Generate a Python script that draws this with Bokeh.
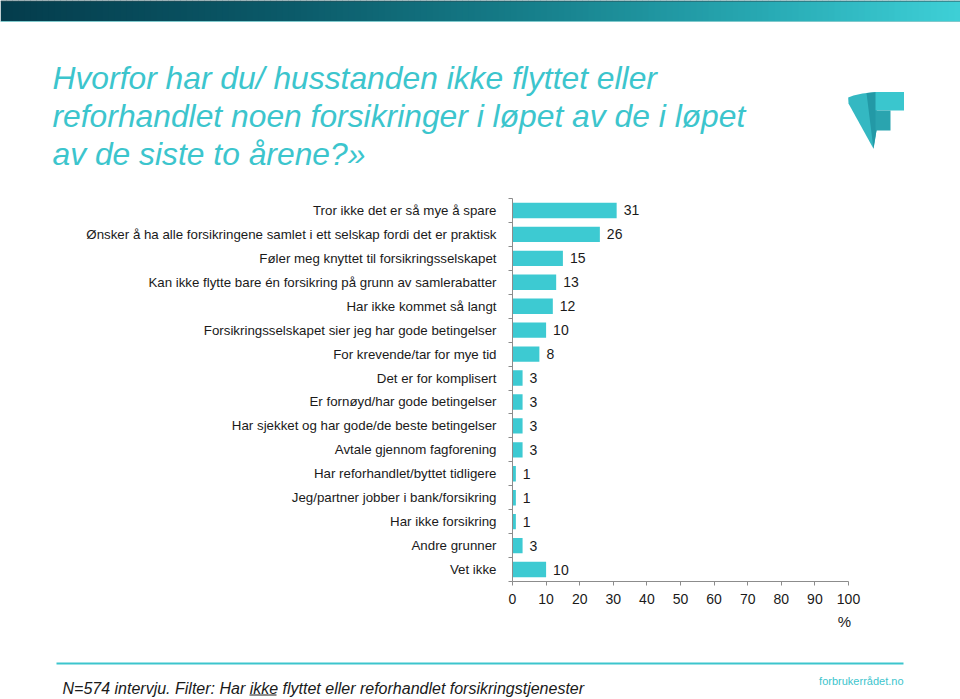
from bokeh.plotting import figure
from bokeh.models import Range1d, FixedTicker
from bokeh.layouts import column
from bokeh.embed import file_html
from bokeh.resources import INLINE
from bokeh.core.properties import value

# ---------------- data ----------------
categories = [
    "Tror ikke det er så mye å spare",
    "Ønsker å ha alle forsikringene samlet i ett selskap fordi det er praktisk",
    "Føler meg knyttet til forsikringsselskapet",
    "Kan ikke flytte bare én forsikring på grunn av samlerabatter",
    "Har ikke kommet så langt",
    "Forsikringsselskapet sier jeg har gode betingelser",
    "For krevende/tar for mye tid",
    "Det er for komplisert",
    "Er fornøyd/har gode betingelser",
    "Har sjekket og har gode/de beste betingelser",
    "Avtale gjennom fagforening",
    "Har reforhandlet/byttet tidligere",
    "Jeg/partner jobber i bank/forsikring",
    "Har ikke forsikring",
    "Andre grunner",
    "Vet ikke",
]
values = [31, 26, 15, 13, 12, 10, 8, 3, 3, 3, 3, 1, 1, 1, 3, 10]
x_ticks = [0, 10, 20, 30, 40, 50, 60, 70, 80, 90, 100]
title_lines = [
    "Hvorfor har du/ husstanden ikke flyttet eller",
    "reforhandlet noen forsikringer i løpet av de i løpet",
    "av de siste to årene?»",
]
unit_label = "%"
footnote = "N=574 intervju. Filter: Har ikke flyttet eller reforhandlet forsikringstjenester"
source_text = "forbrukerrådet.no"

# ---------------- style ----------------
W = 960
FONT = "Liberation Sans"
TEAL = "#3cc5cd"
BAR = "#3dcad2"
AXIS = "#8c8c8c"
TXT = "#1a1a1a"


def no_align(f):
    try:
        f.frame_align = False
    except Exception:
        pass


def blank(height):
    f = figure(width=W, height=height, x_range=Range1d(0, W), y_range=Range1d(height, 0),
               output_backend="svg", toolbar_location=None, min_border=0,
               x_axis_type=None, y_axis_type=None)
    f.grid.visible = False
    f.outline_line_color = None
    no_align(f)
    return f


# ---------------- header ----------------
HH = 190
hdr = blank(HH)
stops = [(0.0, (4, 60, 76)), (0.3, (11, 90, 105)), (0.55, (22, 126, 138)),
         (0.8, (40, 170, 180)), (1.0, (62, 208, 215))]


def grad(t):
    for (t0, c0), (t1, c1) in zip(stops[:-1], stops[1:]):
        if t <= t1:
            u = (t - t0) / (t1 - t0)
            return "#%02x%02x%02x" % tuple(int(round(a + (b - a) * u)) for a, b in zip(c0, c1))
    return "#%02x%02x%02x" % stops[-1][1]


n = 160
lefts = [W * i / n for i in range(n)]
rights = [W * (i + 1) / n + 0.5 for i in range(n)]
cols = [grad((i + 0.5) / n) for i in range(n)]
hdr.quad(left=lefts, right=rights, top=0, bottom=21, fill_color=cols, line_color=None)
hdr.segment(x0=0, y0=0.5, x1=W, y1=0.5, line_color="#2f4f57", line_width=1)
hdr.segment(x0=0, y0=21, x1=W, y1=21, line_color="#7fc9cc", line_width=1)

hdr.text(x=[52, 52, 52], y=[77, 115.5, 153.5], text=title_lines, text_font=value(FONT),
         text_font_style="italic", text_font_size="31.8px", text_color=TEAL,
         text_baseline="middle")

# logo
hdr.patch(x=[847.7, 853, 862, 876, 876, 873, 848],
          y=[97, 95, 93, 91.5, 130, 148.3, 103],
          fill_color="#34b8c2", line_color=None)
hdr.patch(x=[866, 876, 876, 873], y=[92.5, 91.5, 130, 148.3],
          fill_color="#2399a6", line_color=None)
hdr.quad(left=875, right=903.5, top=91.5, bottom=110, fill_color="#3ac6ce", line_color=None)
hdr.quad(left=875, right=890, top=110, bottom=130, fill_color="#2aa4af", line_color=None)

# ---------------- main chart ----------------
idx = list(range(len(categories)))
p = figure(width=W, height=420, x_range=Range1d(0, 100),
           y_range=Range1d(len(categories) - 0.5, -0.5),
           output_backend="svg", toolbar_location=None,
           min_border_left=512, min_border_right=112, min_border_top=8, min_border_bottom=29)
p.grid.visible = False
p.outline_line_color = None
no_align(p)

p.hbar(y=idx, left=0, right=values, height=0.64, fill_color=BAR, line_color=None)
p.text(x=values, y=idx, text=[str(v) for v in values], x_offset=7,
       text_baseline="middle", text_align="left", text_font=value(FONT),
       text_font_size="14px", text_color=TXT)

xa = p.xaxis[0]
xa.ticker = FixedTicker(ticks=x_ticks)
xa.axis_line_color = AXIS
xa.major_tick_line_color = AXIS
xa.major_tick_out = 4
xa.major_tick_in = 0
xa.minor_tick_line_color = None
xa.major_label_text_font = FONT
xa.major_label_text_font_size = "14px"
xa.major_label_text_color = TXT
xa.major_label_standoff = 8

ya = p.yaxis[0]
ya.ticker = FixedTicker(ticks=idx, minor_ticks=[i - 0.5 for i in range(len(categories) + 1)])
ya.major_label_overrides = {i: c for i, c in enumerate(categories)}
ya.axis_line_color = AXIS
ya.major_tick_out = 0
ya.major_tick_in = 0
ya.major_tick_line_color = None
ya.minor_tick_line_color = AXIS
ya.minor_tick_out = 4
ya.minor_tick_in = 0
ya.major_label_text_font = FONT
ya.major_label_text_font_size = "13.3px"
ya.major_label_text_color = TXT
ya.major_label_standoff = 12

# ---------------- footer ----------------
FH = 89
ftr = blank(FH)
ftr.text(x=[844], y=[11], text=[unit_label], text_align="center", text_baseline="middle",
         text_font=value(FONT), text_font_size="15px", text_color=TXT)
ftr.segment(x0=56, y0=53, x1=903, y1=53, line_color=TEAL, line_width=2)
ftr.text(x=[62], y=[77.5], text=[footnote], text_baseline="middle",
         text_font=value(FONT), text_font_style="italic", text_font_size="16px",
         text_color=TXT)
ftr.segment(x0=249, y0=84.5, x1=276, y1=84.5, line_color=TXT, line_width=1)
ftr.text(x=[903], y=[70], text=[source_text], text_align="right", text_baseline="middle",
         text_font=value(FONT), text_font_size="11px", text_color=TEAL)

layout = column(hdr, p, ftr, spacing=0)
open("out.html", "w").write(file_html(layout, INLINE))
